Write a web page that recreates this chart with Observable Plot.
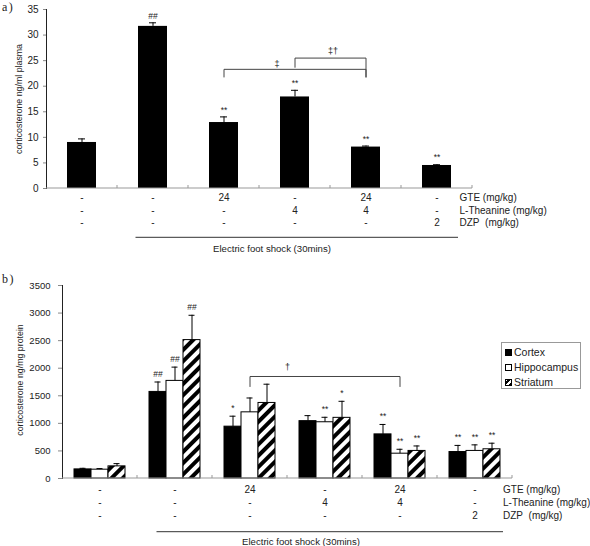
<!DOCTYPE html>
<html>
<head>
<meta charset="utf-8">
<script src="https://cdn.jsdelivr.net/npm/d3@7"></script>
<script src="https://cdn.jsdelivr.net/npm/@observablehq/plot@0.6"></script>
<style>
  body { margin: 0; background: #fff; font-family: "Liberation Sans", Arial, sans-serif; }
  #fig { position: relative; width: 590px; height: 546px; overflow: hidden; background: #fff; }
  .panel { position: absolute; left: 0; }
  .tag { position: absolute; left: 2px; font-family: "Liberation Serif", "DejaVu Serif", serif; font-size: 12px;
         line-height: 14px; letter-spacing: 1.5px; color: #222; z-index: 2; }
  .ylab { position: absolute; font-size: 8.8px; line-height: 10px; color: #222; white-space: nowrap;
          transform: translate(-50%, -50%) rotate(-90deg); z-index: 2; }
  .legend { position: absolute; left: 501px; top: 342px; width: 80px; height: 47px; border: 1px solid #999;
            font-size: 10.5px; color: #222; box-sizing: border-box; padding: 2px 0 0 3px; z-index: 2; }
  .legend div { height: 15px; line-height: 15px; white-space: nowrap; }
  .sw { display: inline-block; width: 7px; height: 7px; border: 1px solid #000; margin-right: 2px; box-sizing: border-box; }
  svg g[aria-label^="y-axis"] path, svg g[aria-label^="y-axis"] line { stroke: #888; }
</style>
</head>
<body>
<div id="fig">
  <div id="panelA" class="panel" style="top:0"></div>
  <div id="panelB" class="panel" style="top:270px"></div>
  <div class="tag" style="top:0px">a)</div>
  <div class="tag" style="top:272px">b)</div>
  <div class="ylab" style="left:19px; top:99px">corticosterone ng/ml plasma</div>
  <div class="ylab" style="left:20px; top:380px">corticosterone ng/mg protein</div>
  <div class="legend">
    <div><span class="sw" style="background:#000"></span>Cortex</div>
    <div><span class="sw" style="background:#fff"></span>Hippocampus</div>
    <div><span class="sw" style="background:repeating-linear-gradient(-45deg,#000 0 2px,#fff 2px 4px)"></span>Striatum</div>
  </div>
</div>
<script>
// Treatment groups (left to right) and their doses
const groups = ["Control", "Shock", "GTE", "L-Theanine", "GTE + L-Theanine", "DZP"];
const gteDose = ["-", "-", "24", "-", "24", "-"];
const theanineDose = ["-", "-", "-", "4", "4", "-"];
const dzpDose = ["-", "-", "-", "-", "-", "2"];
const rowLabels = ["GTE (mg/kg)", "L-Theanine (mg/kg)", "DZP\u00a0\u00a0(mg/kg)"];
const shockLabel = "Electric foot shock (30mins)";

// a) plasma corticosterone (ng/ml), mean and SEM
const plasma = [9.0, 31.7, 12.9, 17.9, 8.1, 4.5];
const plasmaSEM = [0.7, 0.7, 1.1, 1.3, 0.2, 0.15];
const plasmaSig = ["", "##", "**", "**", "**", "**"];

// b) brain corticosterone (ng/mg protein), mean and SEM per region
const tissues = ["Cortex", "Hippocampus", "Striatum"];
const cortex = [165, 1570, 940, 1040, 800, 480];
const cortexSEM = [20, 180, 190, 100, 180, 120];
const cortexSig = ["", "##", "*", "", "**", "**"];
const hippocampus = [160, 1770, 1200, 1020, 450, 500];
const hippocampusSEM = [20, 250, 260, 90, 80, 110];
const hippocampusSig = ["", "##", "", "**", "**", "**"];
const striatum = [220, 2510, 1370, 1100, 500, 530];
const striatumSEM = [50, 450, 340, 300, 90, 110];
const striatumSig = ["", "##", "", "*", "**", "**"];

const font = "'Liberation Sans', Arial, sans-serif";

// Category axis: baseline with small ticks at the group boundaries
function categoryAxis() {
  return (index, scales, values, dims) => {
    const x = scales.x;
    const y0 = dims.height - dims.marginBottom;
    const g = d3.create("svg:g").attr("stroke", "#999").attr("fill", "none");
    g.append("line").attr("x1", dims.marginLeft).attr("x2", dims.width - dims.marginRight)
      .attr("y1", y0).attr("y2", y0);
    const edges = groups.slice(1).map(k => x(k)).concat([dims.width - dims.marginRight]);
    for (const e of edges) g.append("line").attr("x1", e).attr("x2", e).attr("y1", y0 - 3).attr("y2", y0);
    return g.node();
  };
}

// Horizontal rule under the shocked groups
function shockRule(dy, padStart, padEnd) {
  return (index, scales, values, dims) => {
    const x = scales.x;
    const half = x.bandwidth ? x.bandwidth() / 2 : 0;
    const y = dims.height - dims.marginBottom + dy;
    return d3.create("svg:line")
      .attr("x1", x(groups[1]) + half - padStart).attr("x2", x(groups[5]) + half + padEnd)
      .attr("y1", y).attr("y2", y).attr("stroke", "#333").attr("stroke-width", 1).node();
  };
}

// Dose table below the bars
function doseTable(rows, labelDx, shockDy, shockPad, shockText) {
  const marks = [];
  const cols = [gteDose, theanineDose, dzpDose];
  cols.forEach((col, r) => {
    marks.push(Plot.text(groups, {x: d => d, text: (d, i) => col[i], frameAnchor: "bottom", dy: rows[r], fontSize: 10, fill: "#222"}));
    marks.push(Plot.text([rowLabels[r]], {x: () => groups[5], text: d => d, frameAnchor: "bottom", dy: rows[r], dx: labelDx, textAnchor: "start", fontSize: 10, fill: "#222"}));
  });
  marks.push(shockRule(shockDy, shockPad[0], shockPad[1]));
  marks.push(Plot.text([shockLabel], {x: () => groups[3], text: d => d, frameAnchor: "bottom", dy: shockText[1], dx: shockText[0], fontSize: 9.6, fill: "#222"}));
  return marks;
}

// ---------- a) ----------
const plasmaRows = groups.map((g, i) => ({group: g, value: plasma[i], top: plasma[i] + plasmaSEM[i], sig: plasmaSig[i]}));
const bracketA1 = [
  {group: groups[2], v: 21.8}, {group: groups[2], v: 23.3},
  {group: groups[4], v: 23.3}, {group: groups[4], v: 21.8}
];
const bracketA2 = [
  {group: groups[3], v: 23.7}, {group: groups[3], v: 25.5},
  {group: groups[4], v: 25.5}, {group: groups[4], v: 21.8}
];

const chartA = Plot.plot({
  width: 590, height: 270,
  marginLeft: 46, marginRight: 118, marginTop: 9, marginBottom: 82,
  style: {fontFamily: font, fontSize: "10px", color: "#222", background: "transparent", overflow: "visible"},
  x: {domain: groups, padding: 0, axis: null},
  y: {domain: [0, 35], ticks: 7, tickSize: 3, tickPadding: 5, line: true, label: null, tickFormat: d => String(d)},
  marks: [
    Plot.barY(plasmaRows, {x: "group", y: "value", fill: "#000", insetLeft: 21, insetRight: 21}),
    Plot.ruleX(plasmaRows, {x: "group", y1: "value", y2: "top", stroke: "#000"}),
    Plot.tickY(plasmaRows, {x: "group", y: "top", stroke: "#000", insetLeft: 32, insetRight: 32}),
    Plot.text(plasmaRows, {x: "group", y: "top", text: "sig", dy: -7, fontSize: 8.5, fill: "#222"}),
    Plot.line(bracketA1, {x: "group", y: "v", stroke: "#444", strokeWidth: 1}),
    Plot.line(bracketA2, {x: "group", y: "v", stroke: "#444", strokeWidth: 1}),
    Plot.text(["\u2021"], {x: () => groups[3], y: () => 24.4, text: d => d, dx: -18, fontSize: 9, fill: "#222"}),
    Plot.text(["\u2021\u2020"], {x: () => groups[3], y: () => 26.9, text: d => d, dx: 38, fontSize: 9, fill: "#222"}),
    categoryAxis(),
    ...doseTable([12.7, 25.3, 37.3], 22.5, 49.3, [17, 21.5], [-23, 63.5])
  ]
});
document.getElementById("panelA").append(chartA);

// ---------- b) ----------
const series = [
  {tissue: "Cortex", values: cortex, sem: cortexSEM, sig: cortexSig, offset: -17, fill: "#000"},
  {tissue: "Hippocampus", values: hippocampus, sem: hippocampusSEM, sig: hippocampusSig, offset: 0, fill: "#fff"},
  {tissue: "Striatum", values: striatum, sem: striatumSEM, sig: striatumSig, offset: 17, fill: "url(#stripes)"}
];
const step = 75, barW = 17, capW = 6;

// Striped fill used for the striatum bars
function stripeDefs() {
  return () => {
    const defs = d3.create("svg:defs");
    const p = defs.append("pattern").attr("id", "stripes").attr("patternUnits", "userSpaceOnUse")
      .attr("width", 8).attr("height", 8).attr("patternTransform", "rotate(45)");
    p.append("rect").attr("width", 8).attr("height", 8).attr("fill", "#fff");
    p.append("rect").attr("width", 4).attr("height", 8).attr("fill", "#000");
    return defs.node();
  };
}

const brainMarks = [stripeDefs()];
for (const s of series) {
  const rows = groups.map((g, i) => ({group: g, value: s.values[i], top: s.values[i] + s.sem[i], sig: s.sig[i]}));
  const c = step / 2 + s.offset;
  brainMarks.push(
    Plot.barY(rows, {x: "group", y: "value", fill: s.fill, stroke: "#000", strokeWidth: 1,
      insetLeft: c - barW / 2, insetRight: step - c - barW / 2}),
    Plot.ruleX(rows, {x: "group", y1: "value", y2: "top", dx: s.offset, stroke: "#000"}),
    Plot.tickY(rows, {x: "group", y: "top", stroke: "#000", insetLeft: c - capW / 2, insetRight: step - c - capW / 2}),
    Plot.text(rows, {x: "group", y: "top", text: "sig", dx: s.offset, dy: -8, fontSize: 8.5, fill: "#222"})
  );
}
const bracketB = [
  {group: groups[2], v: 1668}, {group: groups[2], v: 1850},
  {group: groups[4], v: 1850}, {group: groups[4], v: 1668}
];

const chartB = Plot.plot({
  width: 590, height: 276,
  marginLeft: 62, marginRight: 78, marginTop: 15, marginBottom: 68,
  style: {fontFamily: font, fontSize: "9.5px", color: "#222", background: "transparent", overflow: "visible"},
  x: {domain: groups, padding: 0, axis: null},
  y: {domain: [0, 3500], ticks: 7, tickSize: 4, tickPadding: 8, line: true, label: null, tickFormat: d => String(d)},
  marks: [
    ...brainMarks,
    Plot.line(bracketB, {x: "group", y: "v", stroke: "#444", strokeWidth: 1}),
    Plot.text(["\u2020"], {x: () => groups[3], y: () => 2020, text: d => d, dx: -37.5, fontSize: 9, fill: "#222"}),
    categoryAxis(),
    ...doseTable([14.7, 27, 40.3], 28, 53.7, [18, 28.5], [-24, 66.5])
  ]
});
document.getElementById("panelB").append(chartB);
</script>
</body>
</html>
